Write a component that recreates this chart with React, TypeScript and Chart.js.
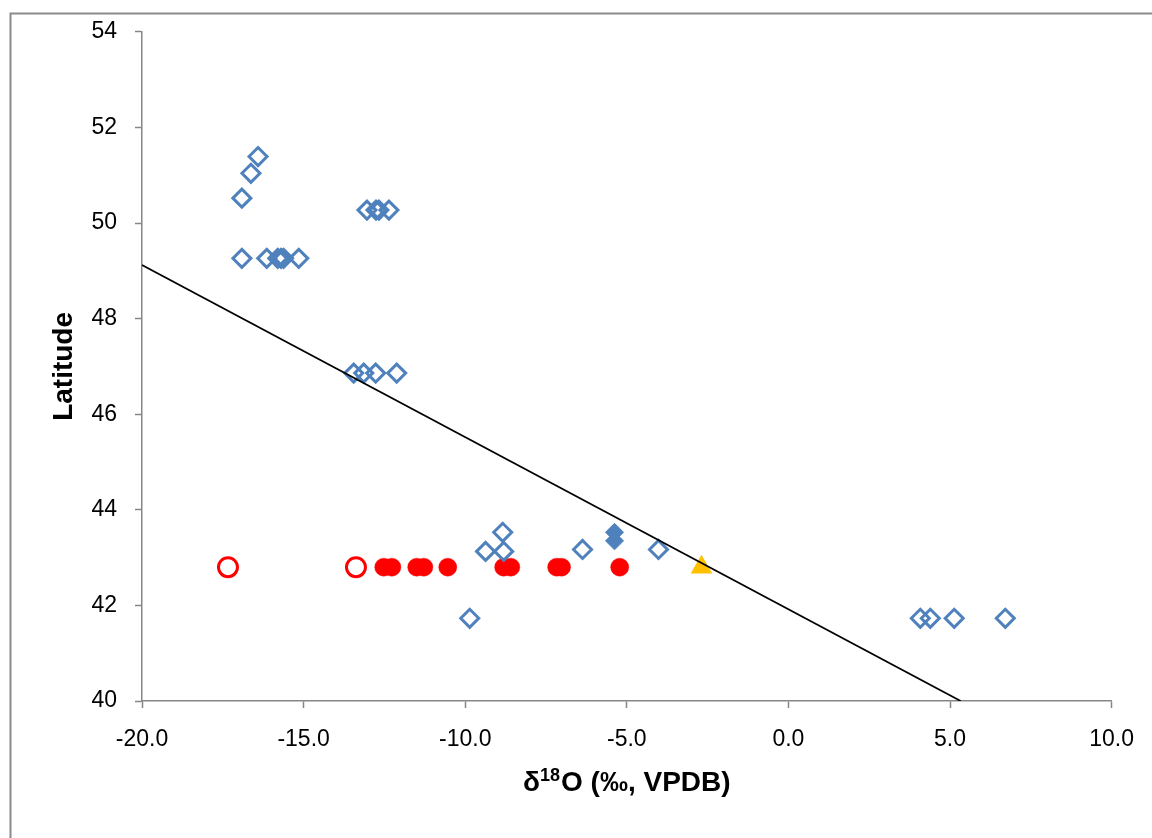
import React, { useEffect, useRef } from "react";
import { Chart, registerables } from "chart.js";

Chart.register(...registerables);

// Blue open diamonds
const openDiamondX = [
  -16.41, -16.63, -16.91,
  -16.91, -16.14, -15.8, -15.7, -15.62, -15.15,
  -13.04, -12.76, -12.67, -12.36,
  -13.45, -13.14, -12.77, -12.12,
  -8.84, -9.37, -8.81, -6.37, -4.02, -9.86,
  4.08, 4.39, 5.13, 6.71,
];
const openDiamondY = [
  51.39, 51.04, 50.52,
  49.26, 49.26, 49.26, 49.26, 49.26, 49.26,
  50.27, 50.27, 50.27, 50.27,
  46.86, 46.86, 46.86, 46.86,
  43.53, 43.13, 43.13, 43.17, 43.17, 41.73,
  41.73, 41.73, 41.73, 41.73,
];

// Blue filled diamonds
const filledDiamondX = [-5.38, -5.38];
const filledDiamondY = [43.53, 43.35];

// Red filled circles
const redFilledX = [-12.52, -12.27, -11.5, -11.28, -10.54, -8.81, -8.59, -7.17, -7.02, -5.22];
const redFilledY = [42.8, 42.8, 42.8, 42.8, 42.8, 42.8, 42.8, 42.8, 42.8, 42.8];

// Red open circles
const redOpenX = [-17.34, -13.38];
const redOpenY = [42.8, 42.8];

// Yellow triangle
const triangleX = [-2.69];
const triangleY = [42.8];

// Trend line end points
const trendX = [-20, 5.33];
const trendY = [49.12, 40];

const xTicks = [-20, -15, -10, -5, 0, 5, 10];
const yTicks = [40, 42, 44, 46, 48, 50, 52, 54];

const pts = (xs: number[], ys: number[]) => xs.map((x, i) => ({ x, y: ys[i] }));

const FONT = "'Liberation Sans', Arial, sans-serif";
const AXIS = "#868686";

const decorPlugin = {
  id: "decor",
  beforeDraw(chart: any) {
    const ctx = chart.ctx;
    ctx.save();
    ctx.strokeStyle = "#8a8a8a";
    ctx.lineWidth = 2;
    ctx.strokeRect(10.5, 13.5, 3000, 3000);
    ctx.restore();
  },
  afterDraw(chart: any) {
    const ctx = chart.ctx;
    const area = chart.chartArea;
    ctx.save();
    ctx.fillStyle = "#000";
    // Y title
    ctx.translate(64, (area.top + area.bottom) / 2);
    ctx.rotate(-Math.PI / 2);
    ctx.font = `bold 28px ${FONT}`;
    ctx.textAlign = "center";
    ctx.textBaseline = "middle";
    ctx.fillText("Latitude", 0, 0);
    ctx.restore();

    // X title with superscript
    ctx.save();
    ctx.fillStyle = "#000";
    ctx.textBaseline = "alphabetic";
    ctx.textAlign = "left";
    const big = `bold 28px ${FONT}`;
    const small = `bold 18px ${FONT}`;
    const p1 = "δ";
    const p2 = "18";
    const p3 = "O (‰, VPDB)";
    ctx.font = big;
    const w1 = ctx.measureText(p1).width;
    const w3 = ctx.measureText(p3).width;
    ctx.font = small;
    const w2 = ctx.measureText(p2).width;
    const total = w1 + w2 + w3 + 1;
    const cx = (area.left + area.right) / 2;
    let x = cx - total / 2;
    const base = 791;
    ctx.font = big;
    ctx.fillText(p1, x, base);
    x += w1;
    ctx.font = small;
    ctx.fillText(p2, x, base - 10);
    x += w2 + 1;
    ctx.font = big;
    ctx.fillText(p3, x, base);
    ctx.restore();
  },
};

export default function App() {
  const ref = useRef<HTMLCanvasElement | null>(null);

  useEffect(() => {
    if (!ref.current) return;
    const chart = new Chart(ref.current, {
      type: "scatter",
      data: {
        datasets: [
          {
            type: "line",
            data: pts(trendX, trendY),
            borderColor: "#000",
            borderWidth: 1.75,
            pointRadius: 0,
            fill: false,
          } as any,
          {
            data: pts(triangleX, triangleY),
            pointStyle: "triangle",
            pointRadius: 12.5,
            backgroundColor: "#FFC000",
            borderColor: "#FFC000",
            borderWidth: 0,
          },
          {
            data: pts(filledDiamondX, filledDiamondY),
            pointStyle: "rectRot",
            pointRadius: 9,
            backgroundColor: "#4F81BD",
            borderColor: "#4F81BD",
            borderWidth: 1,
          },
          {
            data: pts(openDiamondX, openDiamondY),
            pointStyle: "rectRot",
            pointRadius: 9,
            backgroundColor: "rgba(0,0,0,0)",
            borderColor: "#4F81BD",
            borderWidth: 3,
          },
          {
            data: pts(redOpenX, redOpenY),
            pointStyle: "circle",
            pointRadius: 9.5,
            backgroundColor: "rgba(0,0,0,0)",
            borderColor: "#FF0000",
            borderWidth: 3,
          },
          {
            data: pts(redFilledX, redFilledY),
            pointStyle: "circle",
            pointRadius: 9,
            backgroundColor: "#FF0000",
            borderColor: "#FF0000",
            borderWidth: 0.5,
          },
        ],
      },
      options: {
        animation: false,
        responsive: false,
        events: [],
        layout: { padding: { top: 29.5, left: 0, right: 39, bottom: 77 } },
        plugins: {
          legend: { display: false },
          tooltip: { enabled: false },
        },
        scales: {
          x: {
            type: "linear",
            min: -20,
            max: 10,
            afterFit: (s: any) => {
              s.height = 60;
            },
            afterBuildTicks: (s: any) => {
              s.ticks = xTicks.map((v) => ({ value: v }));
            },
            ticks: {
              padding: 18,
              color: "#000",
              font: { family: FONT, size: 23 },
              maxRotation: 0,
              callback: (v: any) => Number(v).toFixed(1),
            },
            border: { display: true, color: AXIS, width: 1.5 },
            grid: {
              display: true,
              drawOnChartArea: false,
              drawTicks: true,
              tickLength: 7,
              tickColor: AXIS,
              tickWidth: 1.5,
            },
          },
          y: {
            type: "linear",
            min: 40,
            max: 54,
            afterFit: (s: any) => {
              s.width = 142;
            },
            afterBuildTicks: (s: any) => {
              s.ticks = yTicks.map((v) => ({ value: v }));
            },
            ticks: {
              padding: 18,
              color: "#000",
              font: { family: FONT, size: 23 },
              callback: (v: any) => String(v),
            },
            border: { display: true, color: AXIS, width: 1.5 },
            grid: {
              display: true,
              drawOnChartArea: false,
              drawTicks: true,
              tickLength: 7,
              tickColor: AXIS,
              tickWidth: 1.5,
            },
          },
        },
      },
      plugins: [decorPlugin],
    });
    return () => chart.destroy();
  }, []);

  return (
    <div style={{ position: "absolute", left: 0, top: 0, width: 1152, height: 838, background: "#fff" }}>
      <canvas ref={ref} width={1152} height={838} style={{ display: "block" }} />
    </div>
  );
}
